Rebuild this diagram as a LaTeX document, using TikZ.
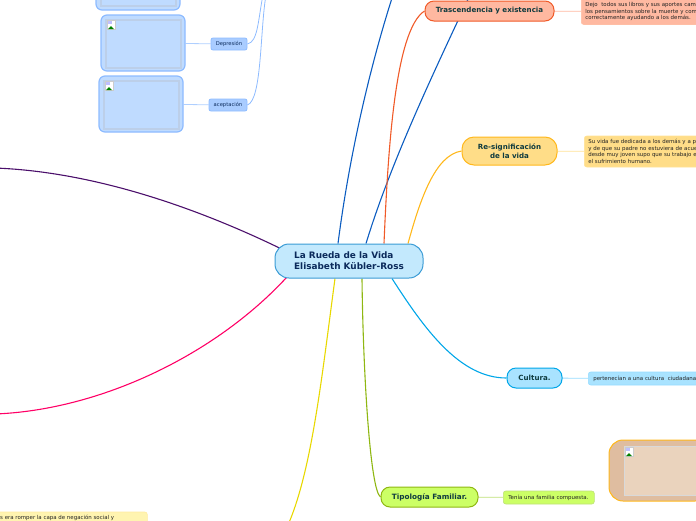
\documentclass[tikz,border=0pt]{standalone}
\usepackage{fontspec}
\setmainfont{DejaVu Sans}
\usetikzlibrary{positioning, calc, backgrounds}
\definecolor{inktext}{HTML}{0F3B3F}
\definecolor{roottext}{HTML}{0B2A5B}
\definecolor{notetext}{HTML}{222222}
\definecolor{bluefill}{HTML}{BFDBFF}
\definecolor{blueline}{HTML}{8DBBFF}
\definecolor{purplebranch}{RGB}{75,15,107}
\definecolor{pinkbranch}{RGB}{255,0,102}
\definecolor{yellowbranch}{RGB}{232,216,0}
\definecolor{bluebranch}{RGB}{11,92,192}
\definecolor{orangebranch}{RGB}{240,90,40}
\definecolor{goldbranch}{RGB}{255,184,28}
\definecolor{cyanbranch}{RGB}{0,166,232}
\definecolor{greenbranch}{RGB}{143,183,18}
\tikzset{
  topicbox/.style={draw, line width=1pt, rounded corners=9pt, font=\bfseries\fontsize{7.1}{8.6}\selectfont, text=inktext, align=center, inner sep=0pt},
  notebox/.style={draw, line width=0.6pt, rounded corners=2.5pt, font=\fontsize{5.45}{6.5}\selectfont, text=notetext, align=left, inner sep=0pt, inner xsep=4pt, anchor=west},
  labelbox/.style={draw=blueline, fill=blueline!75, line width=0.8pt, rounded corners=2pt, font=\fontsize{5.2}{6.5}\selectfont, text=roottext, inner sep=0pt},
  picbox/.style={draw=blueline, fill=bluefill, line width=1.2pt, rounded corners=6pt, inner sep=0pt},
  picinner/.style={draw={rgb,255:red,188;green,207;blue,233}, fill=bluefill, line width=1.6pt, inner sep=0pt},
  branch/.style={line width=1.1pt},
  twig/.style={line width=0.8pt},
  brokenimg/.pic={
    \fill[white] (0,0) rectangle (8,9);
    \draw[black!20, line width=0.3pt] (0,0) rectangle (8,9);
    \fill[green!50!black] (1,9) -- (4,6) -- (7,9) -- cycle;
    \fill[blue!25] (1,1) rectangle (5,4);
  }
}
\begin{document}
\begin{tikzpicture}[x=1pt, y=-1pt]
  \useasboundingbox (0,0) rectangle (696,520);
  \clip (0,0) rectangle (696,520);
  % free ends
  \coordinate (purpleend) at (-5,168);
  \coordinate (pinkend) at (-5,414);
  \coordinate (yellowend) at (288,525);
  \coordinate (blueend) at (393,-5);
  \coordinate (navyend) at (470,-5);
  \coordinate (twigone) at (263,-5);
  \coordinate (twigtwo) at (266,-5);
  % root and topics
  \node[topicbox, draw={rgb,255:red,58;green,155;blue,213}, fill={rgb,255:red,195;green,233;blue,253}, minimum width=148pt, minimum height=34pt, rounded corners=14pt, text=roottext, align=left, font=\bfseries\fontsize{8.9}{11}\selectfont] (root) at (349,261) {La Rueda de la Vida\\Elisabeth Kübler-Ross};
  \node[topicbox, draw=orangebranch, fill={rgb,255:red,255;green,184;blue,160}, minimum width=129pt, minimum height=20pt] (trans) at (489.5,11) {Trascendencia y existencia};
  \node[topicbox, draw=goldbranch, fill={rgb,255:red,255;green,221;blue,136}, minimum width=95pt, minimum height=28pt, rounded corners=12pt] (resig) at (509.5,151) {Re-significación\\de la vida\hspace{17pt}};
  \node[topicbox, draw=cyanbranch, fill={rgb,255:red,169;green,227;blue,255}, minimum width=55pt, minimum height=20pt] (cultura) at (534.5,378) {Cultura.};
  \node[topicbox, draw=greenbranch, fill={rgb,255:red,204;green,255;blue,102}, minimum width=97pt, minimum height=20pt, font=\bfseries\fontsize{7.3}{8.6}\selectfont] (tipo) at (429.5,497) {Tipología Familiar.};
  % notes
  \node[notebox, draw={rgb,255:red,255;green,190;blue,165}, fill={rgb,255:red,255;green,185;blue,161}, minimum width=130pt, minimum height=26pt, text width=122pt] (transnote) at (581,11.5) {Dejo\ \ todos sus libros y sus aportes cam\\los pensamientos sobre la muerte y com\\correctamente ayudando a los demás.};
  \node[notebox, draw={rgb,255:red,255;green,226;blue,150}, fill={rgb,255:red,255;green,221;blue,136}, minimum width=130pt, minimum height=31pt, text width=122pt] (resignote) at (584,151.5) {Su vida fue dedicada a los demás y a p\\y de que su padre no estuviera de acue\\desde muy joven supo que su trabajo e\\el sufrimiento humano.};
  \node[notebox, draw={rgb,255:red,150;green,220;blue,255}, fill={rgb,255:red,169;green,227;blue,255}, minimum width=130pt, minimum height=13pt, text width=120pt, inner xsep=5pt] (culturanote) at (588,378.5) {pertenecían a una cultura\ \ ciudadana};
  \node[notebox, draw={rgb,255:red,190;green,225;blue,120}, fill={rgb,255:red,204;green,255;blue,102}, minimum width=91pt, minimum height=13pt, text width=81pt, inner xsep=5pt] (tiponote) at (503,497.5) {Tenía una familia compuesta.};
  \node[notebox, draw={rgb,255:red,255;green,235;blue,160}, fill={rgb,255:red,255;green,244;blue,176}, minimum width=160pt, minimum height=24pt] (bottomnote) at (-13,524) {};
  \node[font=\fontsize{5.45}{6.5}\selectfont, text=notetext, inner sep=0pt, anchor=west] (bottomtext) at (0,517.5) {s era romper la capa de negación social y};
  % picture boxes on the left
  \node[picbox, minimum width=84pt, minimum height=56pt] (pictop) at (138,-18) {};
  \node[picinner, minimum width=75pt, minimum height=48pt] (pictopin) at (138.5,-18) {};
  \node[picbox, minimum width=84pt, minimum height=56pt] (picdep) at (143,43) {};
  \node[picinner, minimum width=75pt, minimum height=48pt] (picdepin) at (143.5,44) {};
  \node[picbox, minimum width=84pt, minimum height=56pt] (picacep) at (141,104) {};
  \node[picinner, minimum width=75pt, minimum height=48pt] (picacepin) at (141.5,105) {};
  \pic at (107,20) {brokenimg};
  \pic at (105,81) {brokenimg};
  \node[labelbox, minimum width=36pt, minimum height=12pt] (dep) at (229,44) {Depresión};
  \node[labelbox, minimum width=38pt, minimum height=12pt] (acep) at (228,105) {aceptación};
  % big brown picture
  \node[draw=goldbranch, fill={rgb,255:red,223;green,189;blue,160}, line width=1pt, rounded corners=14pt, minimum width=100pt, minimum height=61pt, inner sep=0pt] (picbig) at (659,470.5) {};
  \node[draw=black!15, fill={rgb,255:red,234;green,211;blue,189}, line width=1pt, minimum width=90pt, minimum height=49pt, inner sep=0pt] (picbigin) at (669,470.5) {};
  \pic at (625,447) {brokenimg};
  % connectors
  \begin{scope}[on background layer]
    \draw[branch, purplebranch] ($(root.west)+(5,-13)$) .. controls (205,212) and (100,172) .. (purpleend);
    \draw[branch, pinkbranch] ($(root.south west)+(12,-1)$) .. controls (215,355) and (100,410) .. (pinkend);
    \draw[branch, yellowbranch] ($(root.south)+(-14,0)$) .. controls (322,375) and (312,470) .. (yellowend);
    \draw[branch, bluebranch] ($(root.north)+(-11,0)$) .. controls (350,150) and (372,60) .. (blueend);
    \draw[branch, bluebranch] ($(root.north)+(17,0)$) .. controls (390,165) and (430,80) .. (navyend);
    \draw[branch, orangebranch] ($(root.north)+(35,0)$) .. controls (388,150) and (395,30) .. (trans.west);
    \draw[branch, goldbranch] ($(root.north)+(59,0)$) .. controls (420,200) and (435,155) .. (resig.west);
    \draw[branch, cyanbranch] ($(root.south)+(43,0)$) .. controls (425,330) and (460,378) .. (cultura.west);
    \draw[branch, greenbranch] ($(root.south)+(13,0)$) .. controls (363,370) and (370,490) .. (tipo.west);
    \draw[twig, color={rgb,255:red,255;green,185;blue,161}] (trans) -- (transnote);
    \draw[twig, color={rgb,255:red,255;green,226;blue,150}] (resig) -- (resignote);
    \draw[twig, color={rgb,255:red,150;green,220;blue,255}] (cultura) -- (culturanote);
    \draw[twig, color={rgb,255:red,190;green,225;blue,120}] (tipo) -- (tiponote);
    \draw[twig, color=blueline!70] (picdep) -- (dep);
    \draw[twig, color=blueline!70] (picacep) -- (acep);
    \draw[twig, color=blueline] (dep.east) .. controls (258,42) and (258,20) .. (twigone);
    \draw[twig, color=blueline] (acep.east) .. controls (262,100) and (260,30) .. (twigtwo);
  \end{scope}
\end{tikzpicture}
\end{document}
